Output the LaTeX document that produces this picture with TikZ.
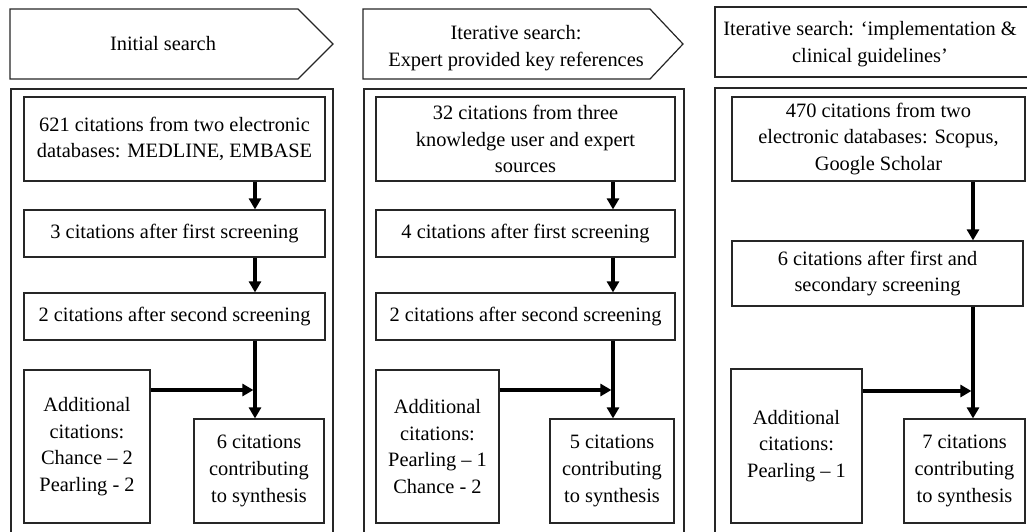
\documentclass[tikz,border=0pt]{standalone}
\usepackage{fontspec}
\setmainfont{Liberation Serif}
\usetikzlibrary{arrows.meta}

\tikzset{
  frame/.style={draw=black!85, line width=1.2pt},
  box/.style={frame, fill=white, inner sep=0pt, align=center,
    font=\fontsize{20.4}{26.7}\selectfont},
  lbl/.style={inner sep=0pt, align=center, font=\fontsize{20.4}{26.7}\selectfont},
  arr/.style={line width=3.3pt, -{Triangle[length=11pt,width=12pt]}},
  flow/.style={line width=3.3pt}
}

\begin{document}
\begin{tikzpicture}[x=1pt, y=-1pt]
  \useasboundingbox (0,0) rectangle (1027,531);
  \clip (0,0) rectangle (1027,531);

  % ---------- Stage headers ----------
  \draw[frame] (10,9) -- (298,9) -- (333,44) -- (298,79) -- (10,79) -- cycle;
  \node[lbl] (h1) at (163,44) {Initial search};

  \draw[frame] (363,9) -- (650,9) -- (683,44) -- (650,79) -- (363,79) -- cycle;
  \node[lbl] (h2) at (516,48) {Iterative search:\\Expert provided key references};

  \draw[frame] (715,7) rectangle (1045,77);
  \node[lbl] (h3) at (870,44) {Iterative search: ‘implementation \&\\clinical guidelines’};

  % ---------- Panel frames ----------
  \draw[frame] (11,545) -- (11,89) -- (333,89) -- (333,545);
  \draw[frame] (364,545) -- (364,89) -- (684,89) -- (684,545);
  \draw[frame] (715,545) -- (715,88) -- (1045,88);

  % ---------- Panel 1: initial search ----------
  \node[box, minimum width=301pt, minimum height=84pt] (p1a) at (174.5,139)
    {621 citations from two electronic\\databases: MEDLINE, EMBASE};
  \node[box, minimum width=301pt, minimum height=47pt] (p1b) at (174.5,233.5)
    {3 citations after first screening};
  \node[box, minimum width=301pt, minimum height=47pt] (p1c) at (174.5,316.5)
    {2 citations after second screening};
  \node[box, minimum width=126pt, minimum height=153pt] (p1add) at (87,446.5)
    {Additional\\citations:\\Chance – 2\\Pearling - 2};
  \node[box, minimum width=130pt, minimum height=104pt] (p1res) at (259,471)
    {6 citations\\contributing\\to synthesis};
  \coordinate (j1) at (255,390);
  \draw[arr] (p1a.south -| j1) -- (p1b.north -| j1);
  \draw[arr] (p1b.south -| j1) -- (p1c.north -| j1);
  \draw[arr] (p1c.south -| j1) -- (p1res.north -| j1);
  \draw[arr] (p1add.east |- j1) -- ([xshift=-1.6pt]j1);

  % ---------- Panel 2: expert references ----------
  \node[box, minimum width=299pt, minimum height=84pt] (p2a) at (525.5,139)
    {32 citations from three\\knowledge user and expert\\sources};
  \node[box, minimum width=299pt, minimum height=47pt] (p2b) at (525.5,233.5)
    {4 citations after first screening};
  \node[box, minimum width=299pt, minimum height=47pt] (p2c) at (525.5,316.5)
    {2 citations after second screening};
  \node[box, minimum width=123pt, minimum height=153pt] (p2add) at (437.5,446.5)
    {Additional\\citations:\\Pearling – 1\\Chance - 2};
  \node[box, minimum width=124pt, minimum height=104pt] (p2res) at (612,471)
    {5 citations\\contributing\\to synthesis};
  \coordinate (j2) at (613,390);
  \draw[arr] (p2a.south -| j2) -- (p2b.north -| j2);
  \draw[arr] (p2b.south -| j2) -- (p2c.north -| j2);
  \draw[arr] (p2c.south -| j2) -- (p2res.north -| j2);
  \draw[arr] (p2add.east |- j2) -- ([xshift=-1.6pt]j2);

  % ---------- Panel 3: implementation & guidelines ----------
  \node[box, minimum width=293pt, minimum height=84pt] (p3a) at (878.5,139)
    {470 citations from two\\electronic databases: Scopus,\\Google Scholar};
  \node[box, minimum width=291pt, minimum height=65pt] (p3b) at (877.5,273.5)
    {6 citations after first and\\secondary screening};
  \node[box, minimum width=131pt, minimum height=154pt] (p3add) at (796.5,446)
    {Additional\\citations:\\Pearling – 1};
  \node[box, minimum width=121pt, minimum height=104pt] (p3res) at (964.5,471)
    {7 citations\\contributing\\to synthesis};
  \coordinate (j3) at (973,391);
  \draw[arr] (p3a.south -| j3) -- (p3b.north -| j3);
  \draw[arr] (p3b.south -| j3) -- (p3res.north -| j3);
  \draw[arr] (p3add.east |- j3) -- ([xshift=-1.6pt]j3);
\end{tikzpicture}
\end{document}
